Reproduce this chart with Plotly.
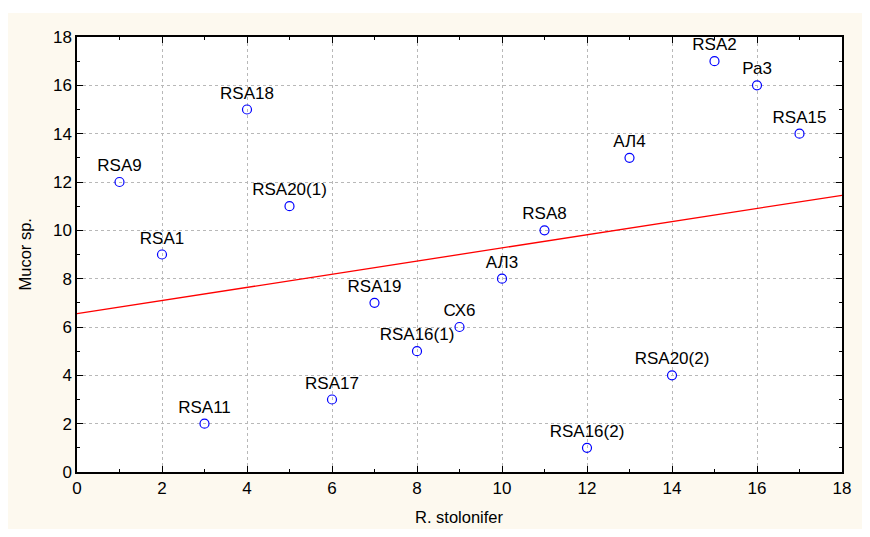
import numpy as np
import plotly.graph_objects as go

labels = ["RSA9", "RSA1", "RSA11", "RSA18", "RSA20(1)", "RSA17", "RSA19", "RSA16(1)",
          "СХ6", "АЛ3", "RSA8", "RSA16(2)", "АЛ4", "RSA20(2)", "RSA2", "Ра3", "RSA15"]
x_vals = [1, 2, 3, 4, 5, 6, 7, 8, 9, 10, 11, 12, 13, 14, 15, 16, 17]
y_vals = [12, 9, 2, 15, 11, 3, 7, 5, 6, 8, 10, 1, 13, 4, 17, 16, 14]
x_ticks = [0, 2, 4, 6, 8, 10, 12, 14, 16, 18]
y_ticks = [0, 2, 4, 6, 8, 10, 12, 14, 16, 18]

slope, intercept = np.polyfit(x_vals, y_vals, 1)
line_x = [0, 18]
line_y = [intercept + slope * v for v in line_x]

FONT = "Arial, Liberation Sans, sans-serif"
BEIGE = "#fdf9ef"

fig = go.Figure()
fig.add_trace(go.Scatter(x=line_x, y=line_y, mode="lines",
                         line=dict(color="#ff0000", width=1.3), hoverinfo="skip"))
fig.add_trace(go.Scatter(x=x_vals, y=y_vals, mode="markers+text", text=labels,
                         textposition="top center",
                         textfont=dict(family=FONT, size=17, color="#000000"),
                         marker=dict(symbol="circle-open", size=9, color="#0000ff",
                                     line=dict(width=1.2, color="#0000ff"))))

axis_common = dict(
    showline=True, linecolor="#000000", linewidth=1.5, mirror="ticks",
    ticks="inside", ticklen=6, tickcolor="#000000", tickwidth=1,
    showgrid=True, gridcolor="#b8b8b8", griddash="dot", gridwidth=1,
    zeroline=False,
    tickfont=dict(family=FONT, size=17, color="#000000"),
    minor=dict(ticks="inside", ticklen=3, dtick=1, tickcolor="#000000", showgrid=False),
)

fig.update_xaxes(range=[0, 18], tickvals=x_ticks, ticktext=[str(v) for v in x_ticks],
                 **axis_common)
fig.update_yaxes(range=[0, 18], tickvals=y_ticks, ticktext=[str(v) for v in y_ticks],
                 **axis_common)

fig.update_layout(
    width=854, height=521,
    margin=dict(l=69, r=11, t=29, b=57),
    paper_bgcolor=BEIGE, plot_bgcolor="#ffffff",
    showlegend=False,
    shapes=[dict(type="rect", xref="paper", yref="paper",
                 x0=-0.2, x1=1.1, y0=1.0 + 24 / 435, y1=1.2,
                 fillcolor="#ffffff", line=dict(width=0), layer="below")],
    annotations=[
        dict(text="R. stolonifer", xref="paper", yref="paper", x=0.5, y=0,
             xanchor="center", yanchor="middle", yshift=-45, showarrow=False,
             font=dict(family=FONT, size=16.5, color="#000000")),
        dict(text="Mucor sp.", xref="paper", yref="paper", x=0, y=0.5,
             xanchor="center", yanchor="middle", xshift=-53, textangle=-90,
             showarrow=False, font=dict(family=FONT, size=16.5, color="#000000")),
    ],
)

fig.write_html("out.html", config={"displayModeBar": False})
